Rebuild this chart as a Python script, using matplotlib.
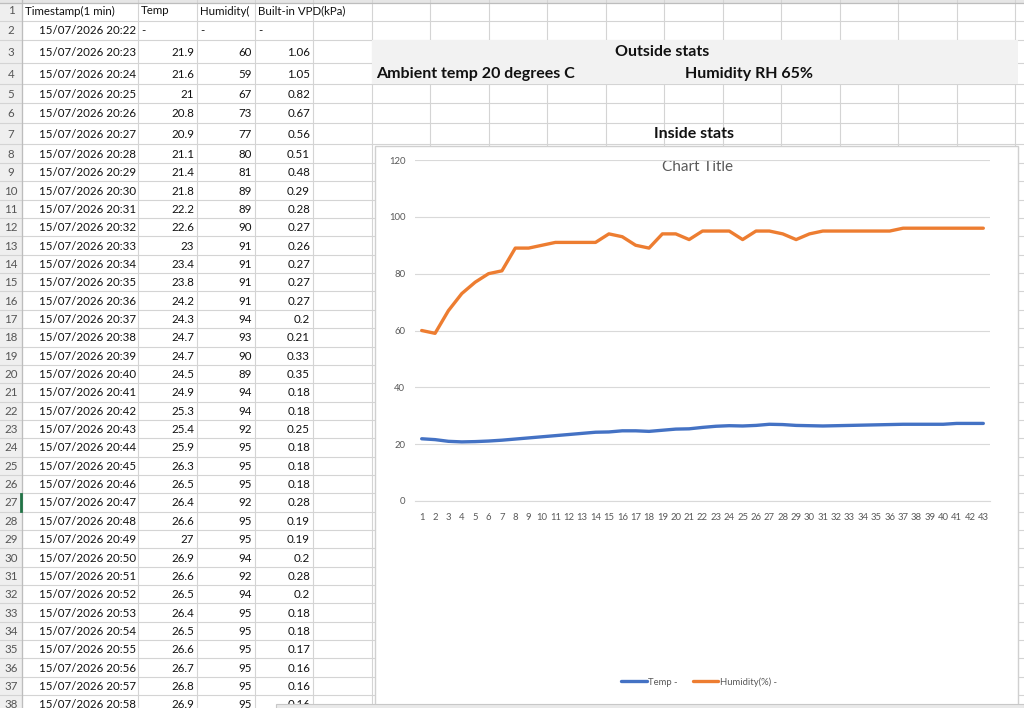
import matplotlib
matplotlib.use("Agg")
import matplotlib.pyplot as plt
from matplotlib.patches import Rectangle

plt.rcParams['font.family'] = ['Lato', 'DejaVu Sans']

# ---------------- data ----------------
minutes = list(range(22, 59))  # 20:22 .. 20:58 (table rows 2..38)
timestamps = ["15/07/2026 20:%02d" % m for m in minutes]
temp = [21.9, 21.6, 21, 20.8, 20.9, 21.1, 21.4, 21.8, 22.2, 22.6, 23, 23.4, 23.8,
        24.2, 24.3, 24.7, 24.7, 24.5, 24.9, 25.3, 25.4, 25.9, 26.3, 26.5, 26.4,
        26.6, 27, 26.9, 26.6, 26.5, 26.4, 26.5, 26.6, 26.7, 26.8, 26.9,
        27.0, 27.0, 27.0, 27.0, 27.3, 27.3, 27.3]
humidity = [60, 59, 67, 73, 77, 80, 81, 89, 89, 90, 91, 91, 91, 91, 94, 93, 90, 89,
            94, 94, 92, 95, 95, 95, 92, 95, 95, 94, 92, 94, 95, 95, 95, 95, 95, 95,
            96, 96, 96, 96, 96, 96, 96]
vpd = [1.06, 1.05, 0.82, 0.67, 0.56, 0.51, 0.48, 0.29, 0.28, 0.27, 0.26, 0.27,
       0.27, 0.27, 0.2, 0.21, 0.33, 0.35, 0.18, 0.18, 0.25, 0.18, 0.18, 0.18,
       0.28, 0.19, 0.19, 0.2, 0.28, 0.2, 0.18, 0.18, 0.17, 0.16, 0.16, 0.16]
categories = list(range(1, len(temp) + 1))
headers = ["Timestamp(1 min)", "Temp", "Humidity(", "Built-in VPD(kPa)"]
y_ticks = [0, 20, 40, 60, 80, 100, 120]
series_names = ["Temp -", "Humidity(%) -"]

# ---------------- figure ----------------
W, H = 1024, 708
fig = plt.figure(figsize=(W / 100, H / 100), dpi=100)
bg = fig.add_axes([0, 0, 1, 1])
bg.set_xlim(0, W)
bg.set_ylim(H, 0)
bg.axis('off')

grid_c = '#d4d4d4'
txt_c = '#111111'

# row boundaries
heights = [21, 19, 23, 21, 19, 20, 21, 19] + [18.35] * 30
bounds = [0]
for h in heights:
    bounds.append(bounds[-1] + h)
# column boundaries
cols = [0, 22, 138, 197, 255, 313]
x = 313
while x < W:
    x += 58.5
    cols.append(x)

# row header background
bg.add_patch(Rectangle((0, 0), 22, H, facecolor='#efefef', edgecolor='none', zorder=0))
bg.add_patch(Rectangle((0, 0), W, 3, facecolor='#e6e6e6', edgecolor='none', zorder=0))
# outside stats band
bg.add_patch(Rectangle((372, bounds[2]), 646, bounds[4] - bounds[2],
                       facecolor='#f2f2f2', edgecolor='none', zorder=1))

for yb in bounds[1:]:
    bg.plot([0, W], [yb, yb], color=grid_c, lw=0.8, zorder=0.5)
for xb in cols[1:]:
    bg.plot([xb, xb], [0, H], color=grid_c, lw=0.8, zorder=0.5)
bg.plot([22, 22], [0, H], color='#bdbdbd', lw=0.9, zorder=0.6)
bg.plot([0, W], [3, 3], color='#bdbdbd', lw=0.9, zorder=0.6)

fs = 8.3

def rc(i):
    return (bounds[i] + bounds[i + 1]) / 2 + 0.5

# row numbers
for i in range(len(heights)):
    bg.text(11, rc(i), str(i + 1), ha='center', va='center', fontsize=fs,
            color='#555555', zorder=3)
bg.plot([21, 21], [bounds[26] + 1, bounds[27] - 1], color='#217346', lw=2, zorder=3)

# header row
hx = [25, 141, 200, 258]
for xx, t in zip(hx, headers):
    bg.text(xx, rc(0), t, ha='left', va='center', fontsize=fs, color=txt_c, zorder=3)

# row 2
bg.text(136, rc(1), timestamps[0], ha='right', va='center', fontsize=fs, color=txt_c, zorder=3)
for xx in [141, 200, 258]:
    bg.text(xx, rc(1), '-', ha='left', va='center', fontsize=fs, color=txt_c, zorder=3)

for k in range(len(vpd)):
    r = k + 2
    bg.text(136, rc(r), timestamps[k + 1], ha='right', va='center', fontsize=fs, color=txt_c, zorder=3)
    bg.text(194, rc(r), '%g' % temp[k], ha='right', va='center', fontsize=fs, color=txt_c, zorder=3)
    bg.text(252, rc(r), '%g' % humidity[k], ha='right', va='center', fontsize=fs, color=txt_c, zorder=3)
    bg.text(310, rc(r), '%g' % vpd[k], ha='right', va='center', fontsize=fs, color=txt_c, zorder=3)

# outside / inside stats
bfs = 11.5
bg.text(662, rc(2), 'Outside stats', ha='center', va='center', fontsize=bfs,
        fontweight='bold', color=txt_c, zorder=3)
bg.text(376, rc(3), 'Ambient temp 20 degrees C', ha='left', va='center', fontsize=bfs,
        fontweight='bold', color=txt_c, zorder=3)
bg.text(685, rc(3), 'Humidity RH 65%', ha='left', va='center', fontsize=bfs,
        fontweight='bold', color=txt_c, zorder=3)
bg.text(694, rc(6), 'Inside stats', ha='center', va='center', fontsize=bfs,
        fontweight='bold', color=txt_c, zorder=3)

# chart box
bg.add_patch(Rectangle((375, 146), 643, 560, facecolor='white', edgecolor='#d0d0d0',
                       lw=1, zorder=4))
bg.text(697, 167, 'Chart Title', ha='center', va='center', fontsize=11,
        color='#595959', zorder=5)
# bottom scroll bar strip
bg.add_patch(Rectangle((276, 704), W - 276, 6, facecolor='#e9e9e9', edgecolor='#c8c8c8',
                       lw=0.8, zorder=6))

# ---------------- chart ----------------
px0, px1, py0, py1 = 415, 990, 160, 501
ax = fig.add_axes([px0 / W, 1 - py1 / H, (px1 - px0) / W, (py1 - py0) / H])
ax.set_facecolor('none')
ax.plot(categories, temp, color='#4472C4', lw=2.4, label=series_names[0],
        solid_joinstyle='round', solid_capstyle='round')
ax.plot(categories, humidity, color='#ED7D31', lw=2.4, label=series_names[1],
        solid_joinstyle='round', solid_capstyle='round')
ax.set_xlim(0.5, len(categories) + 0.5)
ax.set_ylim(y_ticks[0], y_ticks[-1])
ax.set_yticks(y_ticks)
ax.set_xticks(categories)
ax.set_xticklabels([str(c) for c in categories])
ax.grid(axis='y', color='#d9d9d9', lw=0.8)
ax.set_axisbelow(True)
for s in ['top', 'right', 'left']:
    ax.spines[s].set_visible(False)
ax.spines['bottom'].set_color('#d9d9d9')
ax.spines['bottom'].set_linewidth(0.8)
ax.tick_params(axis='both', length=0, labelsize=6.8, colors='#595959')
ax.tick_params(axis='y', pad=7)
ax.tick_params(axis='x', pad=9)

leg = fig.legend(loc='center', bbox_to_anchor=(699 / W, 1 - 682 / H), ncol=2,
                 frameon=False, fontsize=6.8, handlelength=2.7, columnspacing=1.6,
                 handletextpad=0.15)
for t in leg.get_texts():
    t.set_color('#595959')

fig.savefig('out.png', dpi=100)
